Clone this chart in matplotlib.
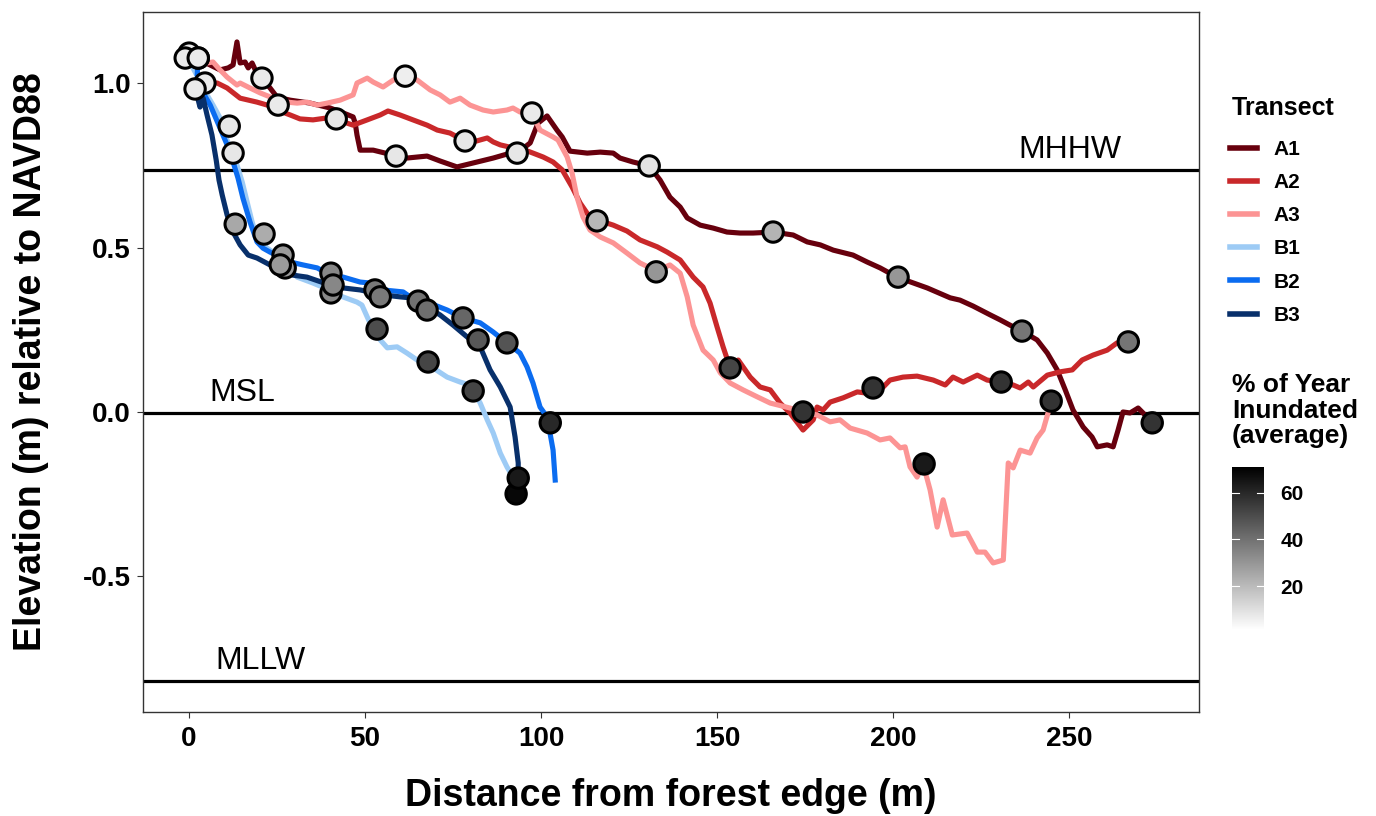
import matplotlib
matplotlib.use("Agg")
import matplotlib.pyplot as plt
from matplotlib.colors import LinearSegmentedColormap, Normalize

plt.rcParams['font.family'] = ['Liberation Sans', 'DejaVu Sans']

# tidal datums, m relative to NAVD88
MHHW = 0.735
MSL = -0.003
MLLW = -0.818

transects = ["A1", "A2", "A3", "B1", "B2", "B3"]
line_colors = ["#67000d", "#c9282a", "#fc9494", "#9dcbf5", "#0b6cf0", "#08306b"]

# elevation profiles (distance m, elevation m)
a1_x = [0, 3.1, 8.8, 11.1, 12.5, 13.6, 14.5, 15.9, 16.8, 17.9, 18.8, 20.7, 23.0, 25.0, 28.7,
        34.4, 40.1, 43.8, 46.6, 47.2, 47.7, 48.6, 52.3, 58.0, 61.9, 67.6, 71.3, 76.1, 80.7,
        86.4, 90.3, 93.2, 96.9, 99.1, 101.7, 104.5, 106.0, 108.2, 113.1, 116.8, 120.5, 122.4,
        126.1, 130.7, 133.8, 136.6, 139.5, 141.5, 145.2, 148.9, 152.8, 156.5, 160.2, 165.9,
        171.6, 175.6, 179.3, 183.0, 188.6, 192.6, 196.3, 201.1, 209.7, 216.2, 219.0, 222.7,
        227.6, 230.4, 233.2, 236.6, 240.9, 243.8, 246.6, 248.9, 251.1, 254.0, 256.5, 258.0,
        260.8, 262.5, 263.9, 265.3, 267.3, 269.6, 271.0, 273.6]
a1_y = [1.091, 1.070, 1.040, 1.046, 1.055, 1.125, 1.061, 1.064, 1.046, 1.061, 1.040, 1.015,
        0.985, 0.957, 0.948, 0.939, 0.924, 0.909, 0.897, 0.878, 0.842, 0.796, 0.796, 0.781,
        0.772, 0.778, 0.763, 0.745, 0.757, 0.772, 0.784, 0.787, 0.818, 0.878, 0.900, 0.857,
        0.836, 0.793, 0.787, 0.790, 0.787, 0.772, 0.760, 0.748, 0.705, 0.653, 0.623, 0.590,
        0.568, 0.559, 0.547, 0.544, 0.544, 0.547, 0.538, 0.517, 0.508, 0.492, 0.477, 0.456,
        0.438, 0.410, 0.377, 0.347, 0.340, 0.322, 0.295, 0.280, 0.264, 0.246, 0.219, 0.179,
        0.128, 0.067, 0.006, -0.046, -0.076, -0.106, -0.100, -0.106, -0.055, 0.000, -0.003,
        0.012, -0.003, -0.033]

a2_x = [4.5, 8.0, 10.8, 14.5, 19.3, 22.2, 25.0, 28.7, 31.5, 35.2, 39.2, 41.8, 44.9, 46.6,
        50.6, 54.3, 56.5, 59.9, 63.6, 67.6, 70.5, 74.1, 78.4, 80.7, 84.7, 86.4, 88.4, 91.2,
        94.0, 97.7, 100.6, 103.4, 106.0, 108.8, 111.1, 113.4, 115.9, 120.5, 124.4, 128.1,
        133.0, 135.8, 139.5, 143.2, 146.0, 148.0, 150.0, 151.7, 153.7, 156.0, 159.4, 162.2,
        165.1, 167.9, 170.7, 174.4, 177.3, 178.4, 180.1, 182.1, 185.8, 189.8, 192.0, 194.3,
        197.2, 199.1, 202.8, 206.8, 211.4, 214.8, 217.0, 219.9, 223.9, 226.7, 230.7, 234.1,
        236.1, 238.4, 239.8, 243.8, 247.4, 250.9, 253.7, 256.8, 260.8, 263.6, 266.8]
a2_y = [1.000, 1.000, 0.985, 0.954, 0.942, 0.933, 0.918, 0.903, 0.891, 0.888, 0.894, 0.891,
        0.878, 0.872, 0.888, 0.903, 0.915, 0.903, 0.888, 0.872, 0.857, 0.848, 0.824, 0.821,
        0.833, 0.821, 0.812, 0.805, 0.802, 0.787, 0.775, 0.760, 0.736, 0.684, 0.635, 0.599,
        0.584, 0.568, 0.550, 0.523, 0.502, 0.486, 0.462, 0.410, 0.380, 0.331, 0.258, 0.198,
        0.134, 0.158, 0.106, 0.076, 0.067, 0.027, -0.003, -0.055, -0.024, 0.015, 0.006, 0.030,
        0.043, 0.061, 0.058, 0.073, 0.076, 0.097, 0.106, 0.109, 0.097, 0.082, 0.106, 0.091,
        0.112, 0.097, 0.091, 0.082, 0.073, 0.091, 0.076, 0.112, 0.122, 0.128, 0.158, 0.173,
        0.188, 0.210, 0.213]

a3_x = [2.6, 5.1, 6.8, 8.8, 10.8, 13.6, 14.5, 17.3, 20.2, 23.9, 27.8, 30.7, 33.5, 36.4,
        39.2, 42.9, 46.6, 47.7, 50.6, 52.3, 55.1, 58.0, 61.4, 64.8, 68.5, 71.3, 74.1, 77.0,
        79.8, 83.5, 86.4, 90.3, 92.0, 94.0, 97.4, 99.7, 103.4, 104.8, 107.4, 108.8, 110.2,
        111.9, 113.9, 116.8, 120.5, 124.4, 128.1, 132.7, 136.6, 139.5, 141.5, 143.2, 146.0,
        148.9, 150.9, 153.7, 157.4, 161.4, 165.1, 170.7, 174.4, 178.4, 182.1, 184.9, 187.8,
        192.6, 196.3, 199.1, 202.0, 203.4, 204.8, 206.8, 208.5, 210.5, 212.5, 214.2, 216.8,
        221.0, 223.9, 226.1, 228.4, 231.3, 232.7, 234.1, 236.1, 238.9, 240.9, 242.6, 244.0,
        244.9]
a3_y = [1.076, 1.061, 1.064, 1.040, 1.018, 0.994, 1.000, 0.985, 0.970, 0.954, 0.942, 0.939,
        0.942, 0.933, 0.939, 0.948, 0.964, 1.000, 1.015, 1.003, 0.988, 1.009, 1.021, 1.009,
        0.979, 0.964, 0.942, 0.954, 0.933, 0.918, 0.912, 0.918, 0.924, 0.912, 0.909, 0.857,
        0.836, 0.827, 0.775, 0.726, 0.653, 0.593, 0.553, 0.532, 0.514, 0.483, 0.453, 0.429,
        0.447, 0.422, 0.350, 0.264, 0.188, 0.158, 0.119, 0.088, 0.067, 0.046, 0.027, 0.012,
        0.000, -0.009, -0.030, -0.024, -0.049, -0.064, -0.085, -0.079, -0.109, -0.106, -0.167,
        -0.198, -0.158, -0.237, -0.350, -0.267, -0.374, -0.368, -0.426, -0.426, -0.459, -0.450,
        -0.155, -0.170, -0.116, -0.125, -0.079, -0.055, -0.003, 0.030]

b1_x = [0.0, 1.1, 2.6, 5.1, 6.8, 8.8, 10.2, 12.2, 13.6, 15.1, 16.5, 17.9, 19.3, 22.2, 25.0,
        27.8, 30.7, 35.2, 39.2, 42.9, 47.7, 49.1, 50.6, 52.3, 54.3, 56.3, 59.1, 61.9, 65.6,
        69.3, 73.3, 77.0, 79.8, 82.7, 84.7, 86.4, 88.4, 90.3, 92.0]
b1_y = [1.076, 1.046, 1.015, 0.964, 0.933, 0.894, 0.842, 0.790, 0.751, 0.699, 0.638, 0.578,
        0.529, 0.498, 0.477, 0.447, 0.410, 0.392, 0.374, 0.353, 0.334, 0.325, 0.289, 0.249,
        0.219, 0.195, 0.198, 0.179, 0.152, 0.134, 0.106, 0.091, 0.082, 0.027, -0.024, -0.064,
        -0.125, -0.167, -0.198]

b2_x = [2.6, 2.3, 4.0, 6.0, 8.8, 10.8, 12.5, 13.9, 15.3, 17.3, 19.3, 21.0, 23.0, 25.9, 28.7,
        32.4, 36.4, 40.1, 43.8, 48.6, 51.4, 55.1, 60.8, 62.8, 67.6, 73.3, 77.8, 82.7, 86.4,
        90.3, 94.0, 96.0, 97.7, 99.7, 101.7, 103.4, 104.0]
b2_y = [1.076, 1.024, 0.970, 0.933, 0.863, 0.812, 0.760, 0.711, 0.650, 0.578, 0.517, 0.498,
        0.486, 0.471, 0.456, 0.447, 0.438, 0.416, 0.410, 0.395, 0.392, 0.371, 0.365, 0.350,
        0.334, 0.310, 0.286, 0.271, 0.243, 0.210, 0.179, 0.137, 0.088, 0.015, -0.015, -0.116,
        -0.207]

b3_x = [1.7, 2.6, 3.1, 4.0, 5.1, 6.5, 7.7, 8.5, 9.4, 10.8, 12.5, 14.5, 16.8, 19.3, 23.0,
        25.9, 29.5, 33.5, 39.2, 43.8, 48.6, 55.1, 59.9, 62.8, 67.6, 71.3, 75.0, 79.0, 82.7,
        85.5, 88.4, 91.2, 92.6, 93.5, 93.5]
b3_y = [0.982, 0.948, 0.927, 0.954, 0.903, 0.842, 0.766, 0.705, 0.660, 0.599, 0.547, 0.508,
        0.477, 0.468, 0.447, 0.432, 0.416, 0.410, 0.389, 0.377, 0.371, 0.356, 0.350, 0.347,
        0.319, 0.295, 0.264, 0.228, 0.198, 0.128, 0.076, 0.015, -0.076, -0.155, -0.201]

# well locations: distance, elevation, % of year inundated
a1_pt_x = [0, 20.7, 58.8, 93.2, 130.7, 165.9, 201.4, 236.6, 273.6]
a1_pt_y = [1.091, 1.015, 0.778, 0.787, 0.748, 0.547, 0.410, 0.246, -0.033]
a1_pct = [7, 7, 8, 8, 9, 22, 30, 39, 57]

a2_pt_x = [4.5, 41.8, 78.4, 115.9, 153.7, 194.3, 230.7, 266.8]
a2_pt_y = [1.000, 0.891, 0.824, 0.581, 0.134, 0.073, 0.091, 0.213]
a2_pct = [7, 8, 8, 21, 52, 57, 57, 39]

a3_pt_x = [2.6, 25.3, 61.4, 97.4, 132.7, 174.4, 208.8, 244.9]
a3_pt_y = [1.076, 0.933, 1.021, 0.909, 0.426, 0.000, -0.158, 0.033]
a3_pct = [7, 7, 6, 7, 30, 57, 64, 57]

b1_pt_x = [-1.1, 11.4, 27.3, 40.3, 53.4, 67.9, 80.7, 92.9]
b1_pt_y = [1.076, 0.869, 0.438, 0.362, 0.252, 0.152, 0.064, -0.249]
b1_pct = [7, 8, 29, 34, 50, 52, 52, 69]

b2_pt_x = [2.6, 12.5, 21.3, 26.7, 40.3, 52.8, 65.1, 77.8, 90.3, 102.6]
b2_pt_y = [1.076, 0.787, 0.541, 0.477, 0.422, 0.371, 0.337, 0.286, 0.210, -0.033]
b2_pct = [7, 8, 24, 29, 34, 38, 40, 43, 48, 60]

b3_pt_x = [1.7, 13.1, 25.9, 40.9, 54.3, 67.6, 82.1, 93.5]
b3_pt_y = [0.982, 0.571, 0.447, 0.386, 0.350, 0.310, 0.219, -0.201]
b3_pct = [7, 25, 29, 34, 38, 41, 47, 64]

profiles = [(a1_x, a1_y), (a2_x, a2_y), (a3_x, a3_y), (b1_x, b1_y), (b2_x, b2_y), (b3_x, b3_y)]
wells = [(a1_pt_x, a1_pt_y, a1_pct), (a2_pt_x, a2_pt_y, a2_pct), (a3_pt_x, a3_pt_y, a3_pct),
         (b1_pt_x, b1_pt_y, b1_pct), (b2_pt_x, b2_pt_y, b2_pct), (b3_pt_x, b3_pt_y, b3_pct)]

fig = plt.figure(figsize=(13.76, 8.16), dpi=100)
ax = fig.add_axes([0.1039, 0.1275, 0.7675, 0.8578])

# datum lines and labels
for level, name, xpos in [(MHHW, "MHHW", 250.3), (MSL, "MSL", 15.1), (MLLW, "MLLW", 20.2)]:
    ax.axhline(level, color="black", lw=2.3, zorder=1)
    ax.text(xpos, level + 0.016, name, ha="center", va="bottom", fontsize=23)

handles = []
for name, col, (px, py) in zip(transects, line_colors, profiles):
    h, = ax.plot(px, py, color=col, lw=3.7, solid_joinstyle="round", label=name, zorder=2)
    handles.append(h)

cmap = LinearSegmentedColormap.from_list("inund", ["#ffffff", "#000000"])
norm = Normalize(vmin=1.2, vmax=71)
for wx, wy, pct in wells:
    sc = ax.scatter(wx, wy, c=pct, cmap=cmap, norm=norm, s=215,
                    edgecolors="black", linewidths=2.2, zorder=3)

ax.set_xlim(-13.1, 286.9)
ax.set_ylim(-0.912, 1.216)
ax.set_xticks([0, 50, 100, 150, 200, 250])
ax.set_yticks([-0.5, 0.0, 0.5, 1.0])
ax.set_yticklabels(["-0.5", "0.0", "0.5", "1.0"])
ax.tick_params(labelsize=20, length=4, width=0.8, color="#333333")
ax.tick_params(axis="x", pad=6)
ax.tick_params(axis="y", pad=5)
for lab in ax.get_xticklabels() + ax.get_yticklabels():
    lab.set_fontweight("bold")
for sp in ax.spines.values():
    sp.set_color("#333333")
    sp.set_linewidth(1.0)

ax.set_xlabel("Distance from forest edge (m)", fontsize=27, fontweight="bold", labelpad=19)
ax.set_ylabel("Elevation (m) relative to NAVD88", fontsize=27, fontweight="bold", labelpad=24)

# transect legend
fig.text(1232 / 1376, 1 - 115 / 816, "Transect", ha="left", va="baseline",
         fontsize=18, fontweight="bold")
leg = fig.legend(handles=handles, loc="upper left", bbox_to_anchor=(1230 / 1376, 1 - 140 / 816),
                 frameon=False, prop={"weight": "bold", "size": 15},
                 handlelength=1.3, handletextpad=0.8, labelspacing=0.68,
                 borderaxespad=0, borderpad=0)
for line in leg.get_lines():
    line.set_linewidth(4)

# colour bar for inundation
cax = fig.add_axes([1232 / 1376, 1 - 630 / 816, 32 / 1376, 163 / 816])
cb = fig.colorbar(sc, cax=cax)
cb.outline.set_visible(False)
cb.set_ticks([20, 40, 60])
cax.tick_params(length=0, labelsize=15, pad=12)
for lab in cax.get_yticklabels():
    lab.set_fontweight("bold")
for v in [20, 40, 60]:
    cax.axhline(v, xmin=0, xmax=0.22, color="white", lw=0.8)
    cax.axhline(v, xmin=0.78, xmax=1, color="white", lw=0.8)
fig.text(1232 / 1376, 1 - 373 / 816, "% of Year\nInundated\n(average)", ha="left", va="top",
         fontsize=19, fontweight="bold", linespacing=1.08)

fig.savefig("out.png", dpi=100)
